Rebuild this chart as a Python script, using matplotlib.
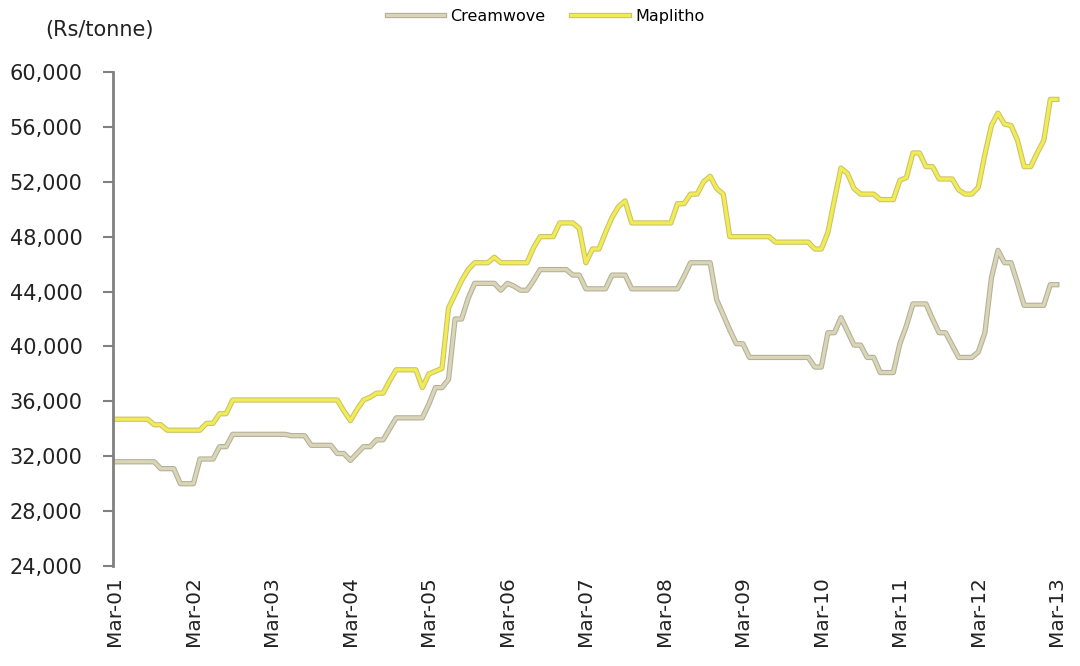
import matplotlib
matplotlib.use("Agg")
from matplotlib import pyplot as plt
import matplotlib.patheffects as pe
from matplotlib.ticker import FuncFormatter
import numpy as np

# monthly prices, Mar-01 .. Mar-13 (Rs/tonne)
creamwove = [
    31600, 31600, 31600, 31600, 31600, 31600, 31600, 31100, 31100, 31100, 30000, 30000,
    30000, 31800, 31800, 31800, 32700, 32700, 33600, 33600, 33600, 33600, 33600, 33600,
    33600, 33600, 33600, 33500, 33500, 33500, 32800, 32800, 32800, 32800, 32200, 32200,
    31700, 32200, 32700, 32700, 33200, 33200, 34000, 34800, 34800, 34800, 34800, 34800,
    35800, 37000, 37000, 37600, 42000, 42000, 43500, 44600, 44600, 44600, 44600, 44100,
    44600, 44400, 44100, 44100, 44800, 45600, 45600, 45600, 45600, 45600, 45200, 45200,
    44200, 44200, 44200, 44200, 45200, 45200, 45200, 44200, 44200, 44200, 44200, 44200,
    44200, 44200, 44200, 45100, 46100, 46100, 46100, 46100, 43400, 42300, 41200, 40200,
    40200, 39200, 39200, 39200, 39200, 39200, 39200, 39200, 39200, 39200, 39200, 38500,
    38500, 41000, 41000, 42100, 41100, 40100, 40100, 39200, 39200, 38100, 38100, 38100,
    40200, 41500, 43100, 43100, 43100, 42000, 41000, 41000, 40100, 39200, 39200, 39200,
    39600, 41000, 45000, 47000, 46100, 46100, 44600, 43000, 43000, 43000, 43000, 44500,
    44500,
]
maplitho = [
    34700, 34700, 34700, 34700, 34700, 34700, 34300, 34300, 33900, 33900, 33900, 33900,
    33900, 33900, 34400, 34400, 35100, 35100, 36100, 36100, 36100, 36100, 36100, 36100,
    36100, 36100, 36100, 36100, 36100, 36100, 36100, 36100, 36100, 36100, 36100, 35300,
    34600, 35400, 36100, 36300, 36600, 36600, 37500, 38300, 38300, 38300, 38300, 37000,
    38000, 38200, 38400, 42800, 43800, 44800, 45600, 46100, 46100, 46100, 46500, 46100,
    46100, 46100, 46100, 46100, 47200, 48000, 48000, 48000, 49000, 49000, 49000, 48600,
    46100, 47100, 47100, 48300, 49400, 50200, 50600, 49000, 49000, 49000, 49000, 49000,
    49000, 49000, 50400, 50400, 51100, 51100, 52000, 52400, 51500, 51100, 48000, 48000,
    48000, 48000, 48000, 48000, 48000, 47600, 47600, 47600, 47600, 47600, 47600, 47100,
    47100, 48300, 50700, 53000, 52600, 51500, 51100, 51100, 51100, 50700, 50700, 50700,
    52100, 52300, 54100, 54100, 53100, 53100, 52200, 52200, 52200, 51400, 51100, 51100,
    51600, 54000, 56100, 57000, 56200, 56100, 55000, 53100, 53100, 54100, 55000, 58000,
    58000,
]
tick_labels = ['Mar-01', 'Mar-02', 'Mar-03', 'Mar-04', 'Mar-05', 'Mar-06', 'Mar-07',
               'Mar-08', 'Mar-09', 'Mar-10', 'Mar-11', 'Mar-12', 'Mar-13']

plt.rcParams['font.family'] = ['DejaVu Sans']

fig = plt.figure(figsize=(10.8, 6.66), dpi=100)
ax = fig.add_axes([0.1046, 0.150, 0.880, 0.742])

x = np.arange(len(creamwove))
ax.plot(x, creamwove, color='#d9d5b6', lw=2.3, label='Creamwove',
        path_effects=[pe.Stroke(linewidth=3.8, foreground='#b3af98'), pe.Normal()])
ax.plot(x, maplitho, color='#f1ec55', lw=2.3, label='Maplitho',
        path_effects=[pe.Stroke(linewidth=3.8, foreground='#c9c26a'), pe.Normal()])

ax.set_ylim(24000, 60000)
ax.set_xlim(-0.3, 145)
ax.set_yticks(np.arange(24000, 60001, 4000))
ax.yaxis.set_major_formatter(FuncFormatter(lambda v, p: f'{int(v):,}'))
ax.set_xticks(np.arange(0, 145, 12))
ax.set_xticklabels(tick_labels, rotation=90)

for s in ['top', 'right', 'bottom']:
    ax.spines[s].set_visible(False)
ax.spines['left'].set_color('#808080')
ax.spines['left'].set_linewidth(2)
ax.tick_params(axis='y', direction='out', length=7, width=1.5, color='#808080',
               labelsize=15, pad=15, labelcolor='#222222')
ax.tick_params(axis='x', length=0, labelsize=14.5, pad=7, labelcolor='#222222')

fig.text(0.042, 0.955, '(Rs/tonne)', fontsize=15, ha='left', va='center', color='#222222')

fig.legend(loc='upper center', bbox_to_anchor=(0.505, 1.008), ncol=2, frameon=False,
           fontsize=11.5, handlelength=3.6, columnspacing=1.6, handletextpad=0.4)

fig.savefig('out.png', dpi=100)
